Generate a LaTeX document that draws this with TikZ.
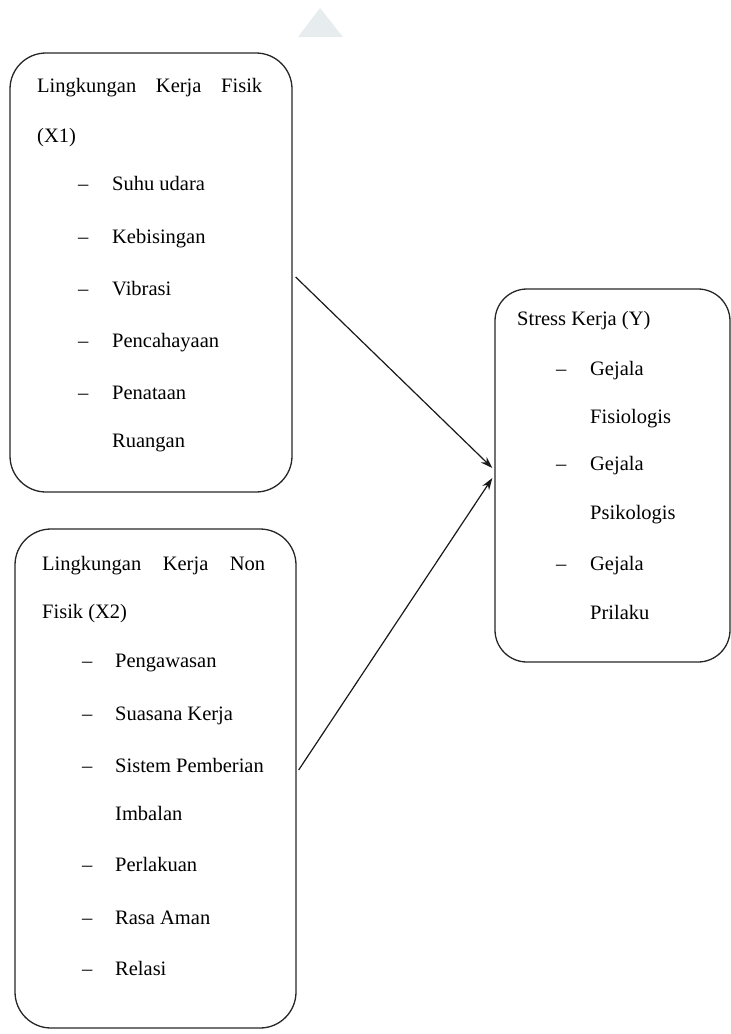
\documentclass[tikz,border=0pt]{standalone}
\usepackage{fontspec}
\setmainfont{Liberation Serif}
\usetikzlibrary{arrows.meta}
\begin{document}
\begin{tikzpicture}[x=1pt,y=-1pt,
  boxst/.style={draw=black!85, line width=1.3pt, rounded corners=36pt, inner sep=0pt},
  txt/.style={anchor=base west, inner sep=0pt, font=\fontsize{20.5}{24}\selectfont},
  arr/.style={draw=black!90, line width=1.2pt, -{Stealth[length=12pt,width=8pt]}}]
\useasboundingbox (0,0) rectangle (731,1034);
% faint watermark
\fill[cyan!20!gray!18] (298,37) -- (320,8) -- (343,37) -- cycle;
% boxes
\node[boxst, minimum width=282pt, minimum height=439pt] (b1) at (151,272.5) {};
\node[boxst, minimum width=281pt, minimum height=499pt] (b2) at (155.5,778.5) {};
\node[boxst, minimum width=235pt, minimum height=373pt, rounded corners=32pt] (b3) at (612.5,475.5) {};
% box 1 text
\node[txt] (t11) at (37,92) {\makebox[225pt][s]{Lingkungan\hfill Kerja\hfill Fisik}};
\node[txt] (t12) at (37,142) {(X1)};
\node[txt] (i11) at (78,190) {\makebox[34pt][l]{–}Suhu udara};
\node[txt] (i12) at (78,243) {\makebox[34pt][l]{–}Kebisingan};
\node[txt] (i13) at (78,295) {\makebox[34pt][l]{–}Vibrasi};
\node[txt] (i14) at (78,347) {\makebox[34pt][l]{–}Pencahayaan};
\node[txt] (i15) at (78,399) {\makebox[34pt][l]{–}Penataan};
\node[txt] (i16) at (112,447) {Ruangan};
% box 2 text
\node[txt] (t21) at (42,570) {\makebox[223pt][s]{Lingkungan\hfill Kerja\hfill Non}};
\node[txt] (t22) at (42,618) {Fisik (X2)};
\node[txt] (i21) at (82,667) {\makebox[33pt][l]{–}Pengawasan};
\node[txt] (i22) at (82,720) {\makebox[33pt][l]{–}Suasana Kerja};
\node[txt] (i23) at (82,772) {\makebox[33pt][l]{–}Sistem Pemberian};
\node[txt] (i24) at (115,820) {Imbalan};
\node[txt] (i25) at (82,871) {\makebox[33pt][l]{–}Perlakuan};
\node[txt] (i26) at (82,924) {\makebox[33pt][l]{–}Rasa Aman};
\node[txt] (i27) at (82,975) {\makebox[33pt][l]{–}Relasi};
% box 3 text
\node[txt] (t31) at (517,325) {Stress Kerja (Y)};
\node[txt] (i31) at (556,375) {\makebox[34pt][l]{–}Gejala};
\node[txt] (i32) at (590,423) {Fisiologis};
\node[txt] (i33) at (556,470) {\makebox[34pt][l]{–}Gejala};
\node[txt] (i34) at (590,519) {Psikologis};
\node[txt] (i35) at (556,570) {\makebox[34pt][l]{–}Gejala};
\node[txt] (i36) at (590,619) {Prilaku};
% arrows
\draw[arr] ([xshift=3pt,yshift=-4.5pt]b1.east) -- ([xshift=-2pt,yshift=7.5pt]b3.west);
\draw[arr] ([xshift=2pt,yshift=8.5pt]b2.east) -- ([xshift=-2pt,yshift=-2.5pt]b3.west);
\end{tikzpicture}
\end{document}
